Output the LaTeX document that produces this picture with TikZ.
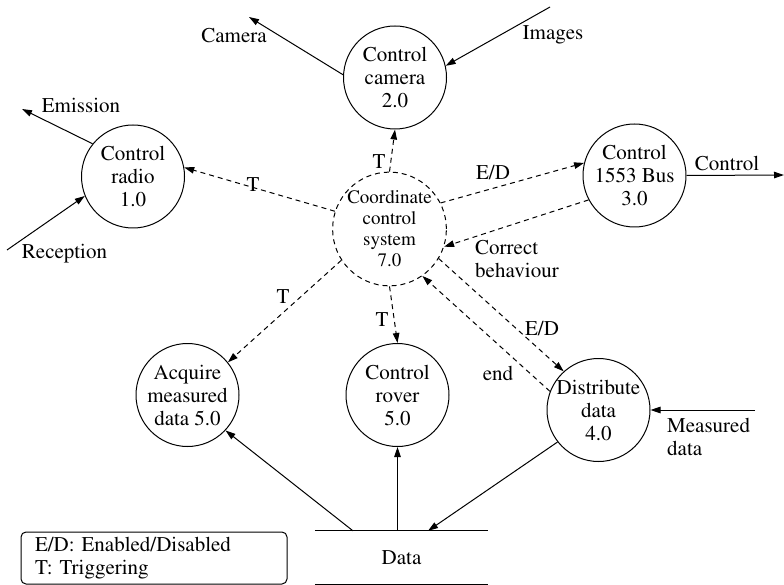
\documentclass[tikz,border=0pt]{standalone}
\usepackage[T1]{fontenc}
\renewcommand{\rmdefault}{ptm}
\usetikzlibrary{arrows.meta, calc, positioning}

\tikzset{
  proc/.style={draw, circle, line width=1pt, minimum size=103pt, inner sep=0pt,
    align=center, font=\fontsize{21}{23}\selectfont},
  flow/.style={line width=1pt, -{Triangle[length=10pt,width=6.5pt]}},
  ctrl/.style={flow, dash pattern=on 5pt off 4pt},
  lbl/.style={inner sep=0pt, font=\fontsize{21}{23}\selectfont},
}

\begin{document}
\begin{tikzpicture}[x=1pt, y=-1pt]
  \useasboundingbox (0,0) rectangle (784,585);
  % Processes
  \node[proc] (radio) at (133,176.5) {Control\\radio\\1.0};
  \node[proc] (camera) at (395,77.5) {Control\\camera\\2.0};
  \node[proc] (bus) at (634.5,175.5) {Control\\1553 Bus\\3.0};
  \node[proc, dash pattern=on 5pt off 4pt, font=\fontsize{19}{21}\selectfont] (coord) at (389.5,229) {Coordinate\\control\\system\\7.0};
  \node[proc] (acquire) at (187.5,395) {Acquire\\measured\\data 5.0};
  \node[proc] (rover) at (397.5,395) {Control\\rover\\5.0};
  \node[proc] (distrib) at (598.5,410) {Distribute\\data\\4.0};
  % Data store
  \node[lbl, minimum width=173pt, minimum height=53pt] (store) at (401.5,557.5) {Data};
  \draw[line width=1pt] (store.north west) -- (store.north east)
    (store.south west) -- (store.south east);
  % Outside ends
  \coordinate (camout) at (249,17);
  \coordinate (imgin) at (550,7);
  \coordinate (emit) at (22,109);
  \coordinate (recv) at (7,250);
  \coordinate (ctlout) at (784,175);
  \coordinate (measin) at (755,410);
  % Data flows
  \draw[flow] (camera.177) -- (camout);
  \draw[flow] (imgin) -- (camera.13);
  \draw[flow] (radio.141) -- (emit);
  \draw[flow] (recv) -- (radio.202);
  \draw[flow] (bus.east) -- (ctlout);
  \draw[flow] (measin) -- (distrib.east);
  \draw[flow] ($(store.north west)!0.22!(store.north east)$) -- (acquire.-43);
  \draw[flow] (store.north -| rover) -- (rover.south);
  \draw[flow] (distrib.218) -- ($(store.north west)!0.653!(store.north east)$);
  % Control flows
  \draw[ctrl] (coord.162) -- (radio.10);
  \draw[ctrl] (coord.north) -- (camera.south);
  \draw[ctrl] (coord.27) -- (bus.166);
  \draw[ctrl] (bus.208) -- (coord.-18);
  \draw[ctrl] (coord.south) -- (rover.north);
  \draw[ctrl] (coord.213) -- (acquire.39);
  \draw[ctrl] (coord.-31.6) -- (distrib.132);
  \draw[ctrl] (distrib.159) -- (coord.-55);
  % Labels
  \node[lbl] (tradio) at (253,185) {T};
  \node[lbl] (tcam) at (379,162) {T};
  \node[lbl] (edbus) at (493,172) {E/D};
  \node[lbl, anchor=west, align=left] (corr) at (475,258.5) {Correct\\behaviour};
  \node[lbl] (trover) at (382,320) {T};
  \node[lbl] (tacq) at (283,297) {T};
  \node[lbl] (eddist) at (542,328) {E/D};
  \node[lbl] (endlbl) at (498,373) {end};
  \node[lbl] (lcam) at (234,35) {Camera};
  \node[lbl] (limg) at (553,35) {Images};
  \node[lbl] (lemit) at (81,105) {Emission};
  \node[lbl] (lrecv) at (64.5,254) {Reception};
  \node[lbl] (lctl) at (727,163) {Control};
  \node[lbl, anchor=west, align=left] (lmeas) at (667,436.5) {Measured\\data};
  % Legend
  \node[draw, line width=1pt, rounded corners=5pt, minimum width=266pt, minimum height=52pt,
    text width=238pt, inner xsep=14pt, align=left, font=\fontsize{21}{23}\selectfont]
    (legend) at (154,558) {E/D: Enabled/Disabled\\T: Triggering};
\end{tikzpicture}
\end{document}
